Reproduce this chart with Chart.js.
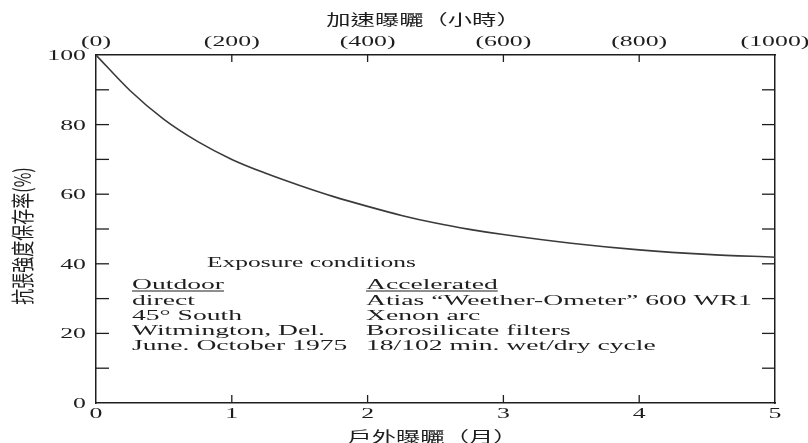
<!DOCTYPE html>
<html>
<head>
<meta charset="utf-8">
<script src="https://cdn.jsdelivr.net/npm/chart.js@4/dist/chart.umd.min.js"></script>
<style>
html,body{margin:0;padding:0;background:#fff;}
canvas{display:block;}
</style>
</head>
<body>
<canvas id="c" width="808" height="443"></canvas>
<script>
// ---- data ----
const months = [0, 0.25, 0.5, 0.75, 1, 1.25, 1.5, 1.75, 2, 2.25, 2.5, 2.75, 3, 3.5, 4, 4.5, 5];
const retention = [100, 89.8, 81.5, 75.1, 70.0, 66.0, 62.5, 59.3, 56.5, 53.9, 51.7, 49.9, 48.4, 45.9, 44.0, 42.7, 41.9];

const monthTicks = [0, 1, 2, 3, 4, 5];
const monthTickLabels = ['0', '1', '2', '3', '4', '5'];
const hourTicks = [0, 200, 400, 600, 800, 1000];
const hourTickLabels = ['(0)', '(200)', '(400)', '(600)', '(800)', '(1000)'];
const yTicks = [0, 20, 40, 60, 80, 100];
const yTickLabels = ['0', '20', '40', '60', '80', '100'];
const yMinorTicks = [10, 20, 30, 40, 50, 60, 70, 80, 90];
const monthMinorTicks = [1, 2, 3, 4];
const hourMinorTicks = [200, 400, 600, 800];

const xTitle = '戶外曝曬（月）';
const x2Title = '加速曝曬（小時）';
const yTitle = '抗張強度保存率(%)';
const noteHeading = 'Exposure conditions';
const outdoorLines = ['Outdoor', 'direct', '45° South', 'Witmington, Del.', 'June. October 1975'];
const acceleratedLines = ['Accelerated', 'Atias \u201CWeether-Ometer\u201D 600 WR1', 'Xenon arc', 'Borosilicate filters', '18/102 min. wet/dry cycle'];

// ---- styles ----
const INK = '#1e1e1e';
const SERIF = '"Liberation Serif", "Times New Roman", serif';
const CJK = '"Noto Sans CJK TC", "Noto Sans CJK SC", sans-serif';

function drawText(ctx, text, x, y, font, align, sx) {
  ctx.save();
  ctx.font = font;
  ctx.fillStyle = INK;
  ctx.textBaseline = 'middle';
  ctx.textAlign = align || 'left';
  ctx.translate(x, y);
  ctx.scale(sx || 1, 1);
  ctx.fillText(text, 0, 0);
  const w = ctx.measureText(text).width * (sx || 1);
  ctx.restore();
  return w;
}

function line(ctx, x1, y1, x2, y2) {
  ctx.beginPath();
  ctx.moveTo(x1, y1);
  ctx.lineTo(x2, y2);
  ctx.stroke();
}

const decorPlugin = {
  id: 'decor',
  afterDraw(chart) {
    const ctx = chart.ctx;
    const a = chart.chartArea;
    const sx = chart.scales.x, sx2 = chart.scales.x2, sy = chart.scales.y;

    // inward tick marks
    ctx.save();
    ctx.strokeStyle = INK;
    ctx.lineWidth = 1.3;
    yMinorTicks.forEach(v => {
      const p = sy.getPixelForValue(v);
      line(ctx, a.left, p, a.left + 13, p);
      line(ctx, a.right - 13, p, a.right, p);
    });
    monthMinorTicks.forEach(v => {
      const p = sx.getPixelForValue(v);
      line(ctx, p, a.bottom, p, a.bottom - 8);
    });
    hourMinorTicks.forEach(v => {
      const p = sx2.getPixelForValue(v);
      line(ctx, p, a.top, p, a.top + 7);
    });
    ctx.restore();

    const tickFont = '15px ' + SERIF;
    const TSX = 1.72;
    // y tick labels
    yTicks.forEach((v, i) => {
      drawText(ctx, yTickLabels[i], a.left - 10, sy.getPixelForValue(v) + 1, tickFont, 'right', TSX);
    });
    // bottom tick labels
    monthTicks.forEach((v, i) => {
      drawText(ctx, monthTickLabels[i], sx.getPixelForValue(v), a.bottom + 11, tickFont, 'center', TSX);
    });
    // top tick labels
    hourTicks.forEach((v, i) => {
      const p = sx2.getPixelForValue(v);
      drawText(ctx, hourTickLabels[i], p, a.top - 13, tickFont, 'center', TSX);
    });

    // axis titles
    const cx = (a.left + a.right) / 2;
    drawText(ctx, x2Title, cx - 12, 19, '15px ' + CJK, 'center', 1.62);
    drawText(ctx, xTitle, cx - 3, 436, '15px ' + CJK, 'center', 1.62);
    ctx.save();
    ctx.font = '16px ' + CJK;
    ctx.fillStyle = INK;
    ctx.textAlign = 'center';
    ctx.textBaseline = 'middle';
    ctx.translate(22, (a.top + a.bottom) / 2 + 7);
    ctx.scale(1.45, 1);
    ctx.rotate(-Math.PI / 2);
    ctx.fillText(yTitle, 0, 0);
    ctx.restore();

    // exposure-conditions note
    const noteFont = '15px ' + SERIF;
    const NSX = 1.84;
    drawText(ctx, noteHeading, 207, 263, noteFont, 'left', 1.7);
    const rows = [285, 301, 316, 331, 346];
    ctx.save();
    ctx.strokeStyle = INK;
    ctx.lineWidth = 1.1;
    outdoorLines.forEach((t, i) => {
      const w = drawText(ctx, t, 132, rows[i], noteFont, 'left', NSX);
      if (i === 0) line(ctx, 132, rows[i] + 6, 132 + w, rows[i] + 6);
    });
    acceleratedLines.forEach((t, i) => {
      const w = drawText(ctx, t, 366, rows[i], noteFont, 'left', NSX);
      if (i === 0) line(ctx, 366, rows[i] + 6, 366 + w, rows[i] + 6);
    });
    ctx.restore();
  }
};

const borderOpt = { display: true, color: INK, width: 1.5 };
const gridOpt = { display: true, drawOnChartArea: false, drawTicks: false };

new Chart(document.getElementById('c'), {
  type: 'line',
  data: {
    datasets: [{
      data: months.map((m, i) => ({ x: m, y: retention[i] })),
      borderColor: '#3a3a3a',
      borderWidth: 1.6,
      pointRadius: 0,
      fill: false,
      cubicInterpolationMode: 'monotone'
    }]
  },
  options: {
    responsive: false,
    animation: false,
    events: [],
    layout: { padding: 0, autoPadding: false },
    plugins: { legend: { display: false }, tooltip: { enabled: false } },
    scales: {
      x: {
        type: 'linear', position: 'bottom', min: 0, max: 5,
        ticks: { display: false, stepSize: 1 },
        grid: gridOpt, border: borderOpt,
        afterFit: s => { s.height = 40; }
      },
      x2: {
        type: 'linear', position: 'top', min: 0, max: 1000,
        ticks: { display: false, stepSize: 200 },
        grid: gridOpt, border: borderOpt,
        afterFit: s => { s.height = 55; }
      },
      y: {
        type: 'linear', position: 'left', min: 0, max: 100,
        ticks: { display: false, stepSize: 10 },
        grid: gridOpt, border: borderOpt,
        afterFit: s => { s.width = 96; }
      },
      y2: {
        type: 'linear', position: 'right', min: 0, max: 100,
        ticks: { display: false, stepSize: 10 },
        grid: gridOpt, border: borderOpt,
        afterFit: s => { s.width = 33; }
      }
    }
  },
  plugins: [decorPlugin]
});
</script>
</body>
</html>
